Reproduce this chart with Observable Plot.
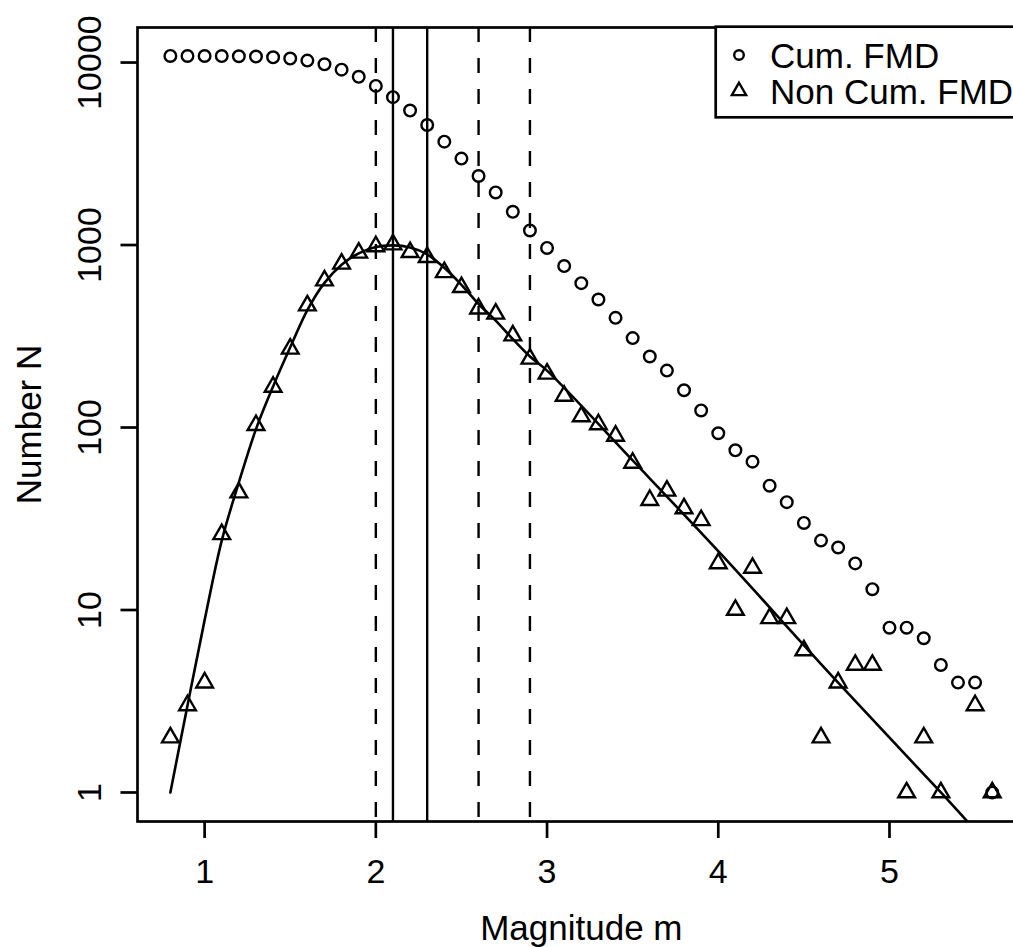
<!DOCTYPE html>
<html><head><meta charset="utf-8">
<script src="https://cdn.jsdelivr.net/npm/d3@7"></script>
<script src="https://cdn.jsdelivr.net/npm/@observablehq/plot@0.6"></script>
<style>
html,body{margin:0;padding:0;background:#fff;overflow:hidden;}
#wrap{position:relative;width:1013px;height:947px;overflow:hidden;}
#legend{position:absolute;left:700px;top:10px;}
</style></head><body><div id="wrap"></div>
<script>
// ---- data ----
const magnitudes = [0.8,0.9,1.0,1.1,1.2,1.3,1.4,1.5,1.6,1.7,1.8,1.9,2.0,2.1,2.2,2.3,2.4,2.5,2.6,2.7,2.8,2.9,3.0,3.1,3.2,3.3,3.4,3.5,3.6,3.7,3.8,3.9,4.0,4.1,4.2,4.3,4.4,4.5,4.6,4.7,4.8,4.9,5.0,5.1,5.2,5.3,5.4,5.5,5.6];
const cumulativeCounts = [10864,10862,10859,10855,10829,10785,10682,10515,10245,9779,9140,8351,7445,6462,5456,4543,3685,2976,2389,1941,1521,1202,964,767,618,503,399,309,245,205,160,124,93,75,65,48,39,30,24,22,18,13,8,8,7,5,4,4,1];
const nonCumulativeCounts = [2,3,4,26,44,103,167,270,466,639,789,906,983,1006,913,858,709,587,448,420,319,238,197,149,115,104,90,64,40,45,36,31,18,10,17,9,9,6,2,4,5,5,0,1,2,1,0,3,1];
const fitMagnitudes = [0.8,0.9,1.0,1.1,1.2,1.3,1.4,1.5,1.6,1.7,1.8,1.9,2.0,2.1,2.2,2.3,2.4,2.5,2.6,2.7,2.8,2.9,3.0,3.5,4.0,4.7,5.3,5.6];
const fitCounts = [1.0,3.0,8.8,24,50,98,168,275,440,620,780,900,975,995,970,890,750,605,475,385,305,245,205,66,21,4.0,1.0,0.49];
const solidLines = [2.1, 2.3];
const dashedLines = [2.0, 2.6, 2.9];
const xTicks = [1,2,3,4,5];
const yTicks = [1,10,100,1000,10000];
const legendLabels = ["Cum. FMD","Non Cum. FMD"];
const xLabel = "Magnitude m";
const yLabel = "Number N";

const FONT = '"Liberation Sans", Arial, Helvetica, sans-serif';
const cum = magnitudes.map((m,i)=>({m, n: cumulativeCounts[i]})).filter(d=>d.n>0);
const non = magnitudes.map((m,i)=>({m, n: nonCumulativeCounts[i]})).filter(d=>d.n>0);
const fit = fitMagnitudes.map((m,i)=>({m, n: fitCounts[i]}));

const chart = Plot.plot({
  width: 1013, height: 947,
  marginLeft: 137, marginRight: -11.6, marginTop: 27, marginBottom: 126,
  style: {fontFamily: FONT, fontSize: "34px", background: "white", overflow: "hidden", color: "black"},
  x: {domain: [0.608, 5.792], axis: null},
  y: {type: "log", domain: [Math.pow(10,-0.159), Math.pow(10,4.192)], axis: null},
  marks: [
    Plot.ruleX(dashedLines, {stroke: "black", strokeWidth: 2.4, strokeDasharray: "15,16"}),
    Plot.ruleX(solidLines, {stroke: "black", strokeWidth: 2.4}),
    Plot.line(fit, {x: "m", y: "n", curve: "catmull-rom", stroke: "black", strokeWidth: 2.6, clip: true}),
    Plot.dot(cum, {x: "m", y: "n", r: 5.8, stroke: "black", strokeWidth: 2.4, fill: "none"}),
    Plot.dot(non, {x: "m", y: "n", symbol: "triangle", r: 6.2, stroke: "black", strokeWidth: 2.4, fill: "none"}),
    Plot.frame({stroke: "black", strokeWidth: 2.7}),
    Plot.axisX({ticks: xTicks, tickSize: 17, tickPadding: 20, strokeWidth: 2.7, label: null, fontSize: 34, tickFormat: d => String(d)}),
    Plot.axisY({ticks: yTicks, tickSize: 16.5, strokeWidth: 2.7, label: null, tickFormat: () => ""}),
    Plot.text(yTicks, {y: d => d, text: d => String(d), frameAnchor: "left", dx: -37, rotate: -90, textAnchor: "middle", lineAnchor: "bottom", fontSize: 34, fill: "black"}),
    Plot.text([yLabel], {frameAnchor: "left", dx: -97, rotate: -90, textAnchor: "middle", lineAnchor: "bottom", fontSize: 35, fill: "black"}),
    Plot.text([xLabel], {frameAnchor: "bottom", dy: 118, textAnchor: "middle", lineAnchor: "bottom", fontSize: 35, fill: "black"})
  ]
});
document.getElementById("wrap").appendChild(chart);

// legend (top-right box, partly cut by the image edge as in the reference)
const lg = d3.select("#wrap").append("svg").attr("id","legend").attr("width", 340).attr("height", 120)
  .style("font-family", FONT).style("font-size", "35px");
lg.append("rect").attr("x", 15.7).attr("y", 16.7).attr("width", 400).attr("height", 90.6)
  .attr("fill", "white").attr("stroke", "black").attr("stroke-width", 2.7);
const sym = [d3.symbolCircle, d3.symbolTriangle];
const rs = [4.8, 5.3];
const ys = [45, 81];
legendLabels.forEach((t, i) => {
  lg.append("path").attr("transform", `translate(39,${ys[i]})`)
    .attr("d", d3.symbol(sym[i], Math.PI * rs[i] * rs[i])())
    .attr("fill", "none").attr("stroke", "black").attr("stroke-width", 2.4);
  lg.append("text").attr("x", 70).attr("y", ys[i] + 12.6).text(t);
});
</script></body></html>
